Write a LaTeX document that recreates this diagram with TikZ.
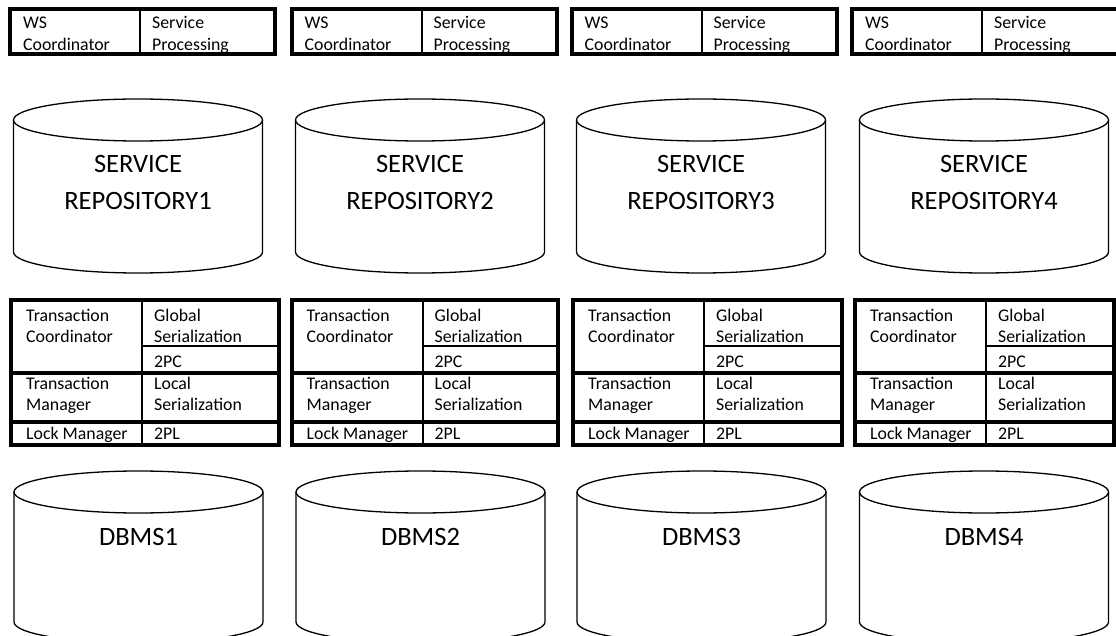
\documentclass[tikz,border=0pt]{standalone}
\usepackage{fontspec}
\setmainfont{Carlito}

\newcommand\cellfont{\fontsize{17.8pt}{21.5pt}\selectfont}
\newcommand\bigfont{\fontsize{26.5pt}{37pt}\selectfont}
\newcommand\celltext[1]{\parbox[t]{125pt}{\raggedright #1}}
\newcommand\cyltext[1]{\parbox[t]{230pt}{\centering #1}}

\tikzset{
  frame/.style={line width=4pt},
  rule/.style={line width=3.5pt},
  midrule/.style={line width=2.6pt},
  hair/.style={line width=2pt},
  cylline/.style={line width=1.3pt},
  cell/.style={anchor=base west, inner sep=0pt, font=\cellfont},
  cyllabel/.style={anchor=base, inner sep=0pt, font=\bigfont},
}

\begin{document}
\begin{tikzpicture}[x=1pt, y=-1pt]
  \fill[white] (0,0) rectangle (1116,636);
  \useasboundingbox (0,0) rectangle (1116,636);

  % web-service layer: coordinator / processing
  \foreach \L/\R/\i in {10/275/1, 291.5/556.5/2, 571.5/836.5/3, 852/1120/4}{
    \draw[frame] (\L,9.5) rectangle (\R,54);
    \draw[hair] (\L+130,9.5) -- (\L+130,54);
    \node[cell] (ws\i) at (\L+13,29) {\celltext{WS\\Coordinator}};
    \node[cell] (sp\i) at (\L+142,29) {\celltext{Service\\Processing}};
  }

  % service repositories
  \foreach \c/\i in {138/1, 420/2, 701/3, 984/4}{
    \draw[cylline] (\c-124.5,120) -- (\c-124.5,252)
      arc[start angle=180, end angle=360, x radius=124.5pt, y radius=21pt]
      -- (\c+124.5,120);
    \draw[cylline] (\c,120) ellipse[x radius=124.5pt, y radius=21pt];
    \node[cyllabel] (repo\i) at (\c,173) {\cyltext{SERVICE\\REPOSITORY\i}};
  }

  % transaction-management stack
  \foreach \L/\R/\i in {11/279/1, 291.5/558/2, 573/842/3, 855/1114/4}{
    \draw[frame] (\L,300) rectangle (\R,445);
    \draw[hair] (\L+131,300) -- (\L+131,445);
    \draw[midrule] (\L+131,346) -- (\R,346);
    \draw[rule] (\L,373) -- (\R,373);
    \draw[rule] (\L,422) -- (\R,422);
    \node[cell] (tc\i) at (\L+15,321) {\celltext{Transaction\\Coordinator}};
    \node[cell] (gs\i) at (\L+143,321) {\celltext{Global\\Serialization}};
    \node[cell] (pc\i) at (\L+143,367) {2PC};
    \node[cell] (tm\i) at (\L+15,389) {\celltext{Transaction\\Manager}};
    \node[cell] (ls\i) at (\L+143,389) {\celltext{Local\\Serialization}};
    \node[cell] (lm\i) at (\L+15,439) {Lock Manager};
    \node[cell] (pl\i) at (\L+143,439) {2PL};
  }

  % database systems
  \foreach \c/\i in {138.5/1, 420.5/2, 701.5/3, 984/4}{
    \draw[cylline] (\c-124.5,492) -- (\c-124.5,622)
      arc[start angle=180, end angle=360, x radius=124.5pt, y radius=21pt]
      -- (\c+124.5,492);
    \draw[cylline] (\c,492) ellipse[x radius=124.5pt, y radius=21pt];
    \node[cyllabel] (db\i) at (\c,545) {DBMS\i};
  }
\end{tikzpicture}
\end{document}
